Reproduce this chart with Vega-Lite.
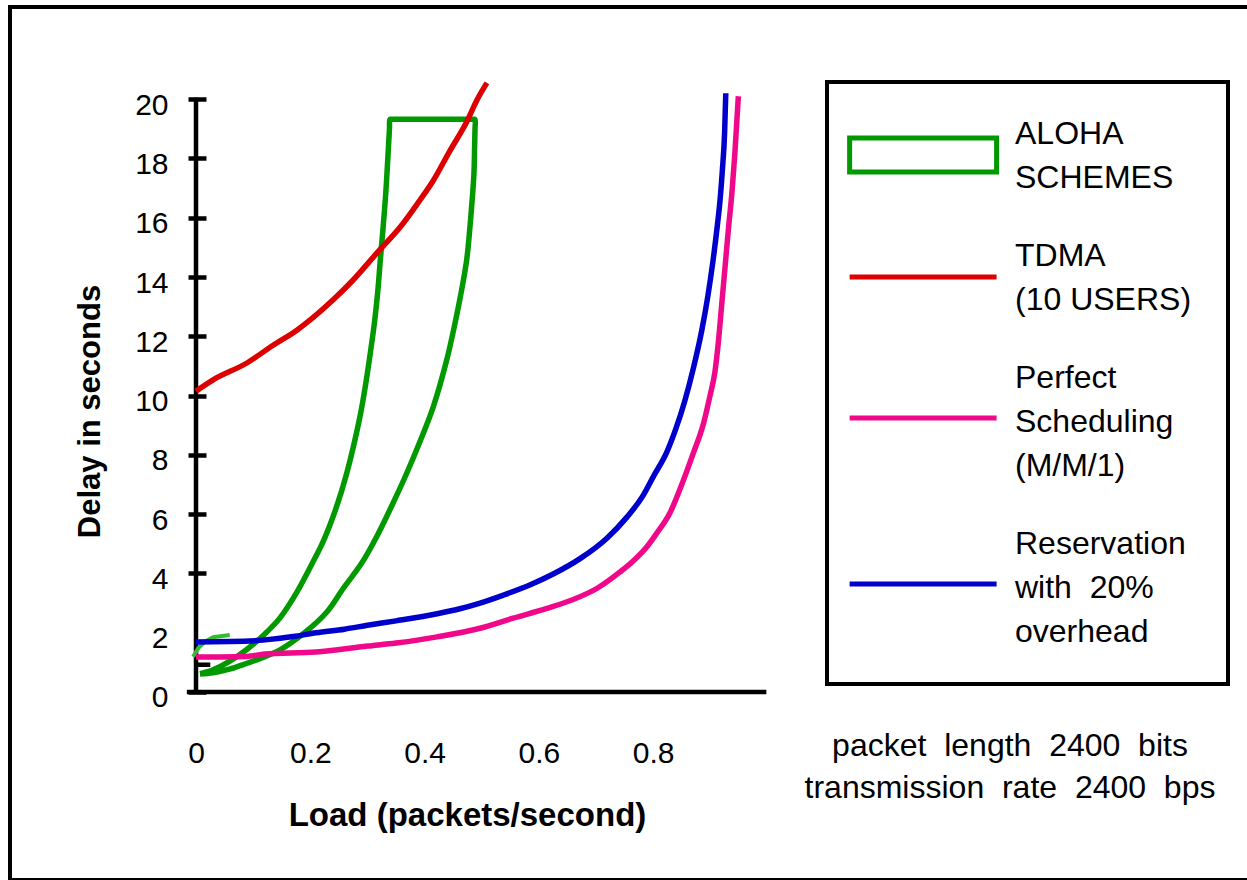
{
  "$schema": "https://vega.github.io/schema/vega-lite/v6.json",
  "width": 1242,
  "height": 873,
  "autosize": "none",
  "padding": {"left": 10, "top": 7, "right": -5, "bottom": 0},
  "background": "white",
  "config": {
    "view": {"stroke": "black", "strokeWidth": 4},
    "font": "Liberation Sans"
  },
  "title": {
    "text": ["packet\u00a0 length\u00a0 2400\u00a0 bits", "transmission\u00a0 rate\u00a0 2400\u00a0 bps"],
    "orient": "bottom",
    "anchor": "start",
    "frame": "group",
    "align": "center",
    "baseline": "middle",
    "dx": 1000,
    "dy": -134,
    "offset": 0,
    "font": "Liberation Sans",
    "fontSize": 32,
    "fontWeight": "normal",
    "lineHeight": 42,
    "color": "black"
  },
  "data": {
    "values": [
      {"s": "ALOHA", "x": 0.007, "y": 0.62},
      {"s": "ALOHA", "x": 0.03, "y": 0.75},
      {"s": "ALOHA", "x": 0.06, "y": 1.05},
      {"s": "ALOHA", "x": 0.09, "y": 1.45},
      {"s": "ALOHA", "x": 0.12, "y": 1.95},
      {"s": "ALOHA", "x": 0.147, "y": 2.5},
      {"s": "ALOHA", "x": 0.176, "y": 3.35},
      {"s": "ALOHA", "x": 0.205, "y": 4.4},
      {"s": "ALOHA", "x": 0.223, "y": 5.1},
      {"s": "ALOHA", "x": 0.245, "y": 6.2},
      {"s": "ALOHA", "x": 0.264, "y": 7.4},
      {"s": "ALOHA", "x": 0.287, "y": 9.3},
      {"s": "ALOHA", "x": 0.297, "y": 10.4},
      {"s": "ALOHA", "x": 0.3055, "y": 11.5},
      {"s": "ALOHA", "x": 0.3125, "y": 12.5},
      {"s": "ALOHA", "x": 0.318, "y": 13.5},
      {"s": "ALOHA", "x": 0.3225, "y": 14.57},
      {"s": "ALOHA", "x": 0.3275, "y": 15.7},
      {"s": "ALOHA", "x": 0.332, "y": 16.82},
      {"s": "ALOHA", "x": 0.3355, "y": 17.95},
      {"s": "ALOHA", "x": 0.3385, "y": 19.0},
      {"s": "ALOHA", "x": 0.3395, "y": 19.32},
      {"s": "ALOHA", "x": 0.342, "y": 19.32},
      {"s": "ALOHA", "x": 0.486, "y": 19.32},
      {"s": "ALOHA", "x": 0.4882, "y": 19.32},
      {"s": "ALOHA", "x": 0.4882, "y": 19.0},
      {"s": "ALOHA", "x": 0.4874, "y": 18.3},
      {"s": "ALOHA", "x": 0.4864, "y": 17.52},
      {"s": "ALOHA", "x": 0.4841, "y": 16.82},
      {"s": "ALOHA", "x": 0.4794, "y": 15.7},
      {"s": "ALOHA", "x": 0.4736, "y": 14.57},
      {"s": "ALOHA", "x": 0.4637, "y": 13.45},
      {"s": "ALOHA", "x": 0.452, "y": 12.33},
      {"s": "ALOHA", "x": 0.4387, "y": 11.2},
      {"s": "ALOHA", "x": 0.4153, "y": 9.63},
      {"s": "ALOHA", "x": 0.393, "y": 8.5},
      {"s": "ALOHA", "x": 0.3687, "y": 7.38},
      {"s": "ALOHA", "x": 0.343, "y": 6.3},
      {"s": "ALOHA", "x": 0.3161, "y": 5.24},
      {"s": "ALOHA", "x": 0.29, "y": 4.35},
      {"s": "ALOHA", "x": 0.2578, "y": 3.5},
      {"s": "ALOHA", "x": 0.229, "y": 2.7},
      {"s": "ALOHA", "x": 0.19, "y": 2.0},
      {"s": "ALOHA", "x": 0.147, "y": 1.42},
      {"s": "ALOHA", "x": 0.115, "y": 1.15},
      {"s": "ALOHA", "x": 0.089, "y": 0.97},
      {"s": "ALOHA", "x": 0.06, "y": 0.78},
      {"s": "ALOHA", "x": 0.03, "y": 0.65},
      {"s": "ALOHA", "x": 0.007, "y": 0.61},
      {"s": "stub", "x": -0.005, "y": 1.19},
      {"s": "stub", "x": 0.004, "y": 1.48},
      {"s": "stub", "x": 0.016, "y": 1.7},
      {"s": "stub", "x": 0.03, "y": 1.85},
      {"s": "stub", "x": 0.059, "y": 1.92},
      {"s": "TDMA", "x": 0, "y": 10.15},
      {"s": "TDMA", "x": 0.03, "y": 10.53},
      {"s": "TDMA", "x": 0.089, "y": 11.1},
      {"s": "TDMA", "x": 0.135, "y": 11.7},
      {"s": "TDMA", "x": 0.176, "y": 12.2},
      {"s": "TDMA", "x": 0.24, "y": 13.23},
      {"s": "TDMA", "x": 0.275, "y": 13.9},
      {"s": "TDMA", "x": 0.316, "y": 14.8},
      {"s": "TDMA", "x": 0.362, "y": 15.8},
      {"s": "TDMA", "x": 0.392, "y": 16.6},
      {"s": "TDMA", "x": 0.415, "y": 17.25},
      {"s": "TDMA", "x": 0.444, "y": 18.25},
      {"s": "TDMA", "x": 0.474, "y": 19.25},
      {"s": "TDMA", "x": 0.491, "y": 19.95},
      {"s": "TDMA", "x": 0.509, "y": 20.55},
      {"s": "MM1", "x": 0, "y": 1.18},
      {"s": "MM1", "x": 0.089, "y": 1.2},
      {"s": "MM1", "x": 0.12, "y": 1.28},
      {"s": "MM1", "x": 0.21, "y": 1.35},
      {"s": "MM1", "x": 0.3, "y": 1.55},
      {"s": "MM1", "x": 0.35, "y": 1.65},
      {"s": "MM1", "x": 0.422, "y": 1.86},
      {"s": "MM1", "x": 0.497, "y": 2.15},
      {"s": "MM1", "x": 0.555, "y": 2.49},
      {"s": "MM1", "x": 0.614, "y": 2.82},
      {"s": "MM1", "x": 0.66, "y": 3.12},
      {"s": "MM1", "x": 0.702, "y": 3.5},
      {"s": "MM1", "x": 0.742, "y": 4.05},
      {"s": "MM1", "x": 0.765, "y": 4.42},
      {"s": "MM1", "x": 0.789, "y": 4.9},
      {"s": "MM1", "x": 0.806, "y": 5.35},
      {"s": "MM1", "x": 0.829, "y": 6.03},
      {"s": "MM1", "x": 0.853, "y": 7.15},
      {"s": "MM1", "x": 0.87, "y": 8.05},
      {"s": "MM1", "x": 0.888, "y": 9.06},
      {"s": "MM1", "x": 0.899, "y": 9.96},
      {"s": "MM1", "x": 0.908, "y": 10.8},
      {"s": "MM1", "x": 0.914, "y": 11.8},
      {"s": "MM1", "x": 0.92, "y": 13.1},
      {"s": "MM1", "x": 0.926, "y": 14.4},
      {"s": "MM1", "x": 0.932, "y": 15.7},
      {"s": "MM1", "x": 0.938, "y": 16.9},
      {"s": "MM1", "x": 0.943, "y": 18.2},
      {"s": "MM1", "x": 0.949, "y": 20.1},
      {"s": "RES", "x": 0, "y": 1.69},
      {"s": "RES", "x": 0.06, "y": 1.7},
      {"s": "RES", "x": 0.117, "y": 1.75},
      {"s": "RES", "x": 0.17, "y": 1.87},
      {"s": "RES", "x": 0.21, "y": 2.0},
      {"s": "RES", "x": 0.26, "y": 2.12},
      {"s": "RES", "x": 0.3, "y": 2.25},
      {"s": "RES", "x": 0.35, "y": 2.4},
      {"s": "RES", "x": 0.422, "y": 2.64},
      {"s": "RES", "x": 0.46, "y": 2.8},
      {"s": "RES", "x": 0.497, "y": 3.0},
      {"s": "RES", "x": 0.538, "y": 3.27},
      {"s": "RES", "x": 0.584, "y": 3.61},
      {"s": "RES", "x": 0.625, "y": 3.98},
      {"s": "RES", "x": 0.672, "y": 4.5},
      {"s": "RES", "x": 0.719, "y": 5.19},
      {"s": "RES", "x": 0.754, "y": 5.9},
      {"s": "RES", "x": 0.783, "y": 6.65},
      {"s": "RES", "x": 0.8, "y": 7.26},
      {"s": "RES", "x": 0.824, "y": 8.1},
      {"s": "RES", "x": 0.84, "y": 8.9},
      {"s": "RES", "x": 0.855, "y": 9.8},
      {"s": "RES", "x": 0.87, "y": 10.9},
      {"s": "RES", "x": 0.885, "y": 12.2},
      {"s": "RES", "x": 0.896, "y": 13.4},
      {"s": "RES", "x": 0.905, "y": 14.6},
      {"s": "RES", "x": 0.912, "y": 15.7},
      {"s": "RES", "x": 0.917, "y": 16.6},
      {"s": "RES", "x": 0.921, "y": 17.6},
      {"s": "RES", "x": 0.925, "y": 18.9},
      {"s": "RES", "x": 0.927, "y": 20.2}
    ]
  },
  "encoding": {
    "x": {
      "field": "x",
      "type": "quantitative",
      "scale": {"domain": [-0.32546, 1.84777], "nice": false, "zero": false},
      "axis": {
        "orient": "bottom",
        "offset": -188,
        "values": [0, 0.2, 0.4, 0.6, 0.8],
        "format": "~g",
        "domain": false,
        "ticks": false,
        "grid": false,
        "labelFont": "Liberation Sans",
        "labelFontSize": 30,
        "labelColor": "black",
        "labelPadding": 46,
        "title": "Load (packets/second)",
        "titleFont": "Liberation Sans",
        "titleFontSize": 33,
        "titleFontWeight": "bold",
        "titleColor": "black",
        "titleX": 457,
        "titleY": 123,
        "titleAlign": "center",
        "titleBaseline": "middle"
      }
    },
    "y": {
      "field": "y",
      "type": "quantitative",
      "scale": {"domain": [-6.3428, 23.1107], "nice": false, "zero": false},
      "axis": {
        "orient": "left",
        "offset": -196,
        "values": [0, 2, 4, 6, 8, 10, 12, 14, 16, 18, 20],
        "domain": false,
        "grid": false,
        "tickSize": 18,
        "tickWidth": 4.5,
        "tickColor": "black",
        "tickOpacity": {"condition": {"test": "datum.value === 2", "value": 0}, "value": 1},
        "labelFont": "Liberation Sans",
        "labelFontSize": 30,
        "labelColor": "black",
        "labelPadding": 20,
        "labelOffset": 6,
        "title": "Delay in seconds",
        "titleFont": "Liberation Sans",
        "titleFontSize": 31,
        "titleFontWeight": "bold",
        "titleColor": "black",
        "titleAngle": -90,
        "titleX": -116,
        "titleY": 404,
        "titleAlign": "center",
        "titleBaseline": "middle"
      }
    }
  },
  "layer": [
    {
      "data": {"values": [{"x": 0, "y": 0}, {"x": 0, "y": 20.05}]},
      "mark": {"type": "line", "color": "black", "strokeWidth": 4.5},
      "encoding": {}
    },
    {
      "data": {"values": [{"x": -0.016, "y": 0}, {"x": 0.998, "y": 0}]},
      "mark": {"type": "line", "color": "black", "strokeWidth": 4.5},
      "encoding": {}
    },
    {
      "data": {"values": [{"x": 0, "y": 0.92}, {"x": 0.025, "y": 0.92}]},
      "mark": {"type": "line", "color": "black", "strokeWidth": 4.5},
      "encoding": {}
    },
    {
      "transform": [{"filter": "datum.s === 'stub'"}],
      "mark": {"type": "line", "color": "#33bb33", "strokeWidth": 4},
      "encoding": {"order": {"value": null}}
    },
    {
      "transform": [{"filter": "datum.s === 'ALOHA'"}],
      "mark": {"type": "line", "strokeWidth": 5.5, "strokeJoin": "miter", "interpolate": "catmull-rom"},
      "encoding": {
        "order": {"value": null},
        "color": {"field": "s", "type": "nominal"}
      }
    },
    {
      "transform": [{"filter": "datum.s !== 'stub' && datum.s !== 'ALOHA'"}],
      "mark": {"type": "line", "strokeWidth": 5.5, "interpolate": "monotone"},
      "encoding": {
        "color": {
          "field": "s",
          "type": "nominal",
          "scale": {
            "domain": ["ALOHA", "TDMA", "MM1", "RES"],
            "range": ["#009900", "#dd0000", "#f0088a", "#0000cc"]
          },
          "legend": {
            "orient": "none",
            "legendX": 817,
            "legendY": 75,
            "title": null,
            "strokeColor": "black",
            "padding": 36,
            "rowPadding": 46,
            "symbolType": "stroke",
            "symbolSize": 4761,
            "symbolStrokeWidth": 5,
            "labelFont": "Liberation Sans",
            "labelFontSize": 32,
            "labelColor": "black",
            "labelOffset": 78,
            "labelLimit": 400,
            "labelExpr": "datum.label == 'ALOHA' ? ['ALOHA', 'SCHEMES'] : datum.label == 'TDMA' ? ['TDMA', '(10 USERS)'] : datum.label == 'MM1' ? ['Perfect', 'Scheduling', '(M/M/1)'] : ['Reservation', 'with\u00a0 20%', 'overhead']",
            "encode": {
              "legend": {
                "update": {"strokeWidth": {"value": 4}}
              },
              "symbols": {
                "update": {
                  "shape": {"signal": "datum.value == 'ALOHA' ? 'M-1.46,-0.493H2.8V0.493H-1.46Z' : 'M-1.46,0H2.8'"},
                  "fill": {"value": "transparent"},
                  "strokeWidth": {"value": 5}
                }
              },
              "labels": {
                "update": {
                  "lineHeight": {"value": 44},
                  "dy": {"signal": "datum.value == 'ALOHA' || datum.value == 'TDMA' ? -21 : -40"}
                }
              }
            }
          }
        }
      }
    }
  ]
}
